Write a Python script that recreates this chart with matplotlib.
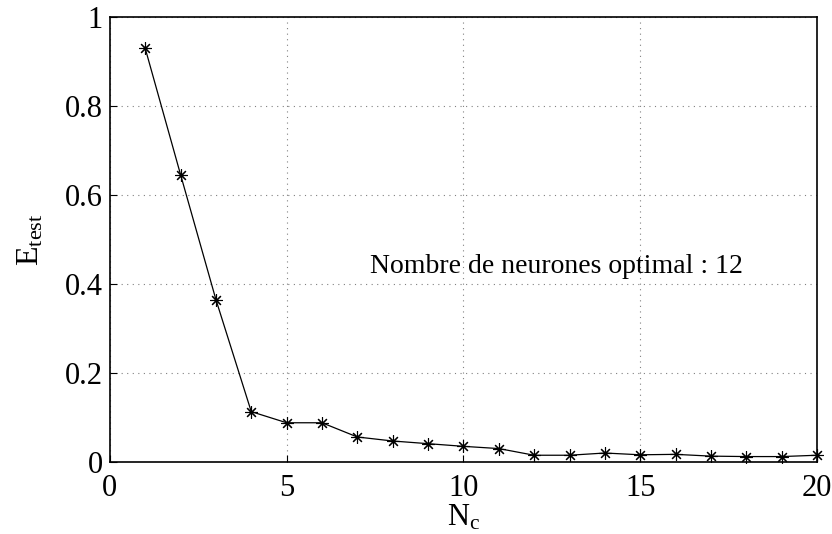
import matplotlib
matplotlib.use('Agg')
import matplotlib.pyplot as plt

plt.rcParams['font.family'] = ['Liberation Serif', 'DejaVu Serif']
plt.rcParams['mathtext.fontset'] = 'custom'
plt.rcParams['mathtext.rm'] = 'Liberation Serif'

# Données
nc = list(range(1, 21))
e_test = [0.930, 0.646, 0.365, 0.113, 0.088, 0.088, 0.056, 0.047, 0.041, 0.035,
          0.030, 0.015, 0.015, 0.020, 0.016, 0.017, 0.013, 0.012, 0.012, 0.015]
x_ticks = [0, 5, 10, 15, 20]
y_ticks = [0, 0.2, 0.4, 0.6, 0.8, 1]
y_labels = ['0', '0.2', '0.4', '0.6', '0.8', '1']

fig = plt.figure(figsize=(8.32, 5.34), dpi=100)
ax = fig.add_axes([0.132, 0.135, 0.850, 0.833])

ax.plot(nc, e_test, color='black', linewidth=0.9, marker=(8, 2, 0), markersize=9,
        markeredgewidth=0.8, clip_on=False)

ax.set_xlim(0, 20)
ax.set_ylim(0, 1)
ax.set_xticks(x_ticks)
ax.set_yticks(y_ticks)
ax.set_yticklabels(y_labels)
ax.tick_params(direction='in', labelsize=22, length=5, width=0.8)
ax.tick_params(axis='x', pad=9)
ax.tick_params(axis='y', pad=5)
ax.grid(True, linestyle=(0, (1, 4)), color='gray', linewidth=0.8)
for s in ax.spines.values():
    s.set_linewidth(1.2)

ax.set_xlabel(r'$\mathrm{N_c}$', fontsize=22, labelpad=0)
ax.set_ylabel(r'$\mathrm{E_{test}}$', fontsize=23, labelpad=14)

ax.text(7.36, 0.424, 'Nombre de neurones optimal : 12', fontsize=20,
        va='baseline', ha='left')

fig.savefig('out.png', dpi=100)
